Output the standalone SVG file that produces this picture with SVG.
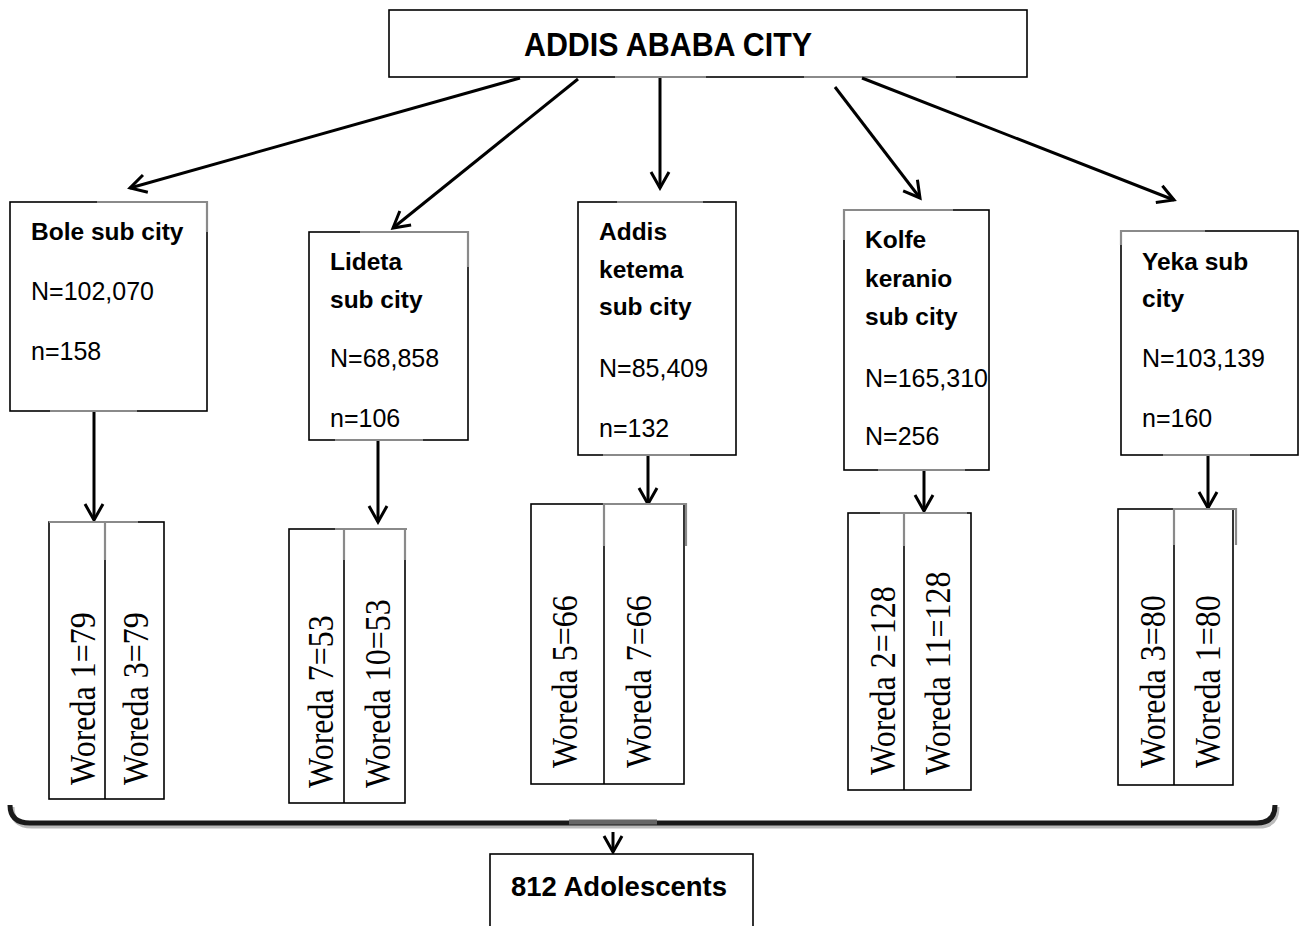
<svg xmlns="http://www.w3.org/2000/svg" width="1301" height="926" viewBox="0 0 1301 926">
<style>
.box{fill:#fff;stroke:#000;stroke-width:1.6}
.art{fill:none;stroke:#8a8a8a;stroke-width:2.2}
.t{font-family:"Liberation Sans",Arial,sans-serif;font-size:25px;fill:#000}
.b{font-weight:bold;font-size:24.5px}
.title{font-family:"Liberation Sans",Arial,sans-serif;font-size:33px;font-weight:bold;fill:#000}
.w{font-family:"Liberation Serif","Times New Roman",serif;font-size:32px;fill:#000}
.conn{fill:none;stroke:#000;stroke-width:3}
</style>
<defs>
<marker id="ah" viewBox="0 0 24 24" refX="21" refY="12" markerWidth="24" markerHeight="24" orient="auto" markerUnits="userSpaceOnUse">
<path d="M5,3 L21,12 L5,21" fill="none" stroke="#000" stroke-width="3" stroke-linejoin="miter"/>
</marker>
</defs>
<rect width="1301" height="926" fill="#fff"/>

<g id="top">
<rect class="box" x="389" y="10" width="638" height="67"/>
<line class="art" x1="615" y1="77" x2="706" y2="77"/>
<line class="art" x1="804" y1="77" x2="956" y2="77"/>
<text class="title" x="524" y="56" textLength="288" lengthAdjust="spacingAndGlyphs">ADDIS ABABA CITY</text>
</g>

<g id="connectors">
<line class="conn" x1="520" y1="78" x2="130" y2="188" marker-end="url(#ah)"/>
<line class="conn" x1="578" y1="79" x2="393" y2="228" marker-end="url(#ah)"/>
<line class="conn" x1="660" y1="78" x2="660" y2="188" marker-end="url(#ah)"/>
<line class="conn" x1="835" y1="87" x2="920" y2="198" marker-end="url(#ah)"/>
<line class="conn" x1="862" y1="78" x2="1174" y2="200" marker-end="url(#ah)"/>
<line class="conn" x1="94" y1="411" x2="94" y2="520" marker-end="url(#ah)"/>
<line class="conn" x1="378" y1="415" x2="378" y2="522" marker-end="url(#ah)"/>
<line class="conn" x1="648" y1="455" x2="648" y2="504" marker-end="url(#ah)"/>
<line class="conn" x1="924" y1="470" x2="924" y2="511" marker-end="url(#ah)"/>
<line class="conn" x1="1208" y1="455" x2="1208" y2="508" marker-end="url(#ah)"/>
<path d="M12,807 Q12,826 32,826 L1259,826 Q1277,826 1277,807" fill="none" stroke="#bbb" stroke-width="5"/>
<path d="M10,805 Q10,823 30,823 L1257,823 Q1275,823 1275,805" fill="none" stroke="#1a1a1a" stroke-width="5"/>
<line x1="569" y1="822" x2="657" y2="822" stroke="#666" stroke-width="5"/>
<line class="conn" x1="613" y1="832" x2="613" y2="852" marker-end="url(#ah)"/>
</g>

<g id="bole">
<rect class="box" x="10" y="202" width="197" height="209"/>
<path class="art" d="M97,202 H207 V232"/>
<line class="art" x1="50" y1="411" x2="137" y2="411"/>
<text class="t b" x="31" y="240">Bole sub city</text>
<text class="t" x="31" y="300">N=102,070</text>
<text class="t" x="31" y="360">n=158</text>
</g>

<g id="lideta">
<rect class="box" x="309" y="232" width="159" height="208"/>
<path class="art" d="M360,232 H468 V267"/>
<line class="art" x1="335" y1="440" x2="423" y2="440"/>
<text class="t b" x="330" y="270">Lideta</text>
<text class="t b" x="330" y="308">sub city</text>
<text class="t" x="330" y="367">N=68,858</text>
<text class="t" x="330" y="427">n=106</text>
</g>

<g id="addis">
<rect class="box" x="578" y="202" width="158" height="253"/>
<line class="art" x1="617" y1="202" x2="703" y2="202"/>
<line class="art" x1="603" y1="455" x2="690" y2="455"/>
<text class="t b" x="599" y="240">Addis</text>
<text class="t b" x="599" y="278">ketema</text>
<text class="t b" x="599" y="315">sub city</text>
<text class="t" x="599" y="377">N=85,409</text>
<text class="t" x="599" y="437">n=132</text>
</g>

<g id="kolfe">
<rect class="box" x="844" y="210" width="145" height="260"/>
<path class="art" d="M844,240 V210 H953"/>
<line class="art" x1="878" y1="470" x2="965" y2="470"/>
<text class="t b" x="865" y="248">Kolfe</text>
<text class="t b" x="865" y="287">keranio</text>
<text class="t b" x="865" y="325">sub city</text>
<text class="t" x="865" y="387">N=165,310</text>
<text class="t" x="865" y="445">N=256</text>
</g>

<g id="yeka">
<rect class="box" x="1121" y="231" width="177" height="224"/>
<path class="art" d="M1121,245 V231 H1205"/>
<line class="art" x1="1163" y1="455" x2="1250" y2="455"/>
<text class="t b" x="1142" y="270">Yeka sub</text>
<text class="t b" x="1142" y="307">city</text>
<text class="t" x="1142" y="367">N=103,139</text>
<text class="t" x="1142" y="427">n=160</text>
</g>

<g id="bole-woredas">
<rect class="box" x="49" y="522" width="115" height="277"/>
<line class="box" x1="105" y1="522" x2="105" y2="799"/>
<path class="art" d="M49,522 H138 M105,522 V560"/>
<text class="w" transform="translate(95,785) rotate(-90) scale(1,1.12)">Woreda 1=79</text>
<text class="w" transform="translate(148,785) rotate(-90) scale(1,1.12)">Woreda 3=79</text>
</g>

<g id="lideta-woredas">
<rect class="box" x="289" y="529" width="116" height="274"/>
<line class="box" x1="344" y1="529" x2="344" y2="803"/>
<path class="art" d="M335,529 H407 M344,529 V560 M405,529 V560"/>
<text class="w" transform="translate(333,788) rotate(-90) scale(1,1.12)">Woreda 7=53</text>
<text class="w" transform="translate(390,788) rotate(-90) scale(1,1.12)">Woreda 10=53</text>
</g>

<g id="addis-woredas">
<rect class="box" x="531" y="504" width="153" height="280"/>
<line class="box" x1="604" y1="504" x2="604" y2="784"/>
<path class="art" d="M604,546 V504 H686 V546"/>
<text class="w" transform="translate(577,768) rotate(-90) scale(1,1.12)">Woreda 5=66</text>
<text class="w" transform="translate(651,768) rotate(-90) scale(1,1.12)">Woreda 7=66</text>
</g>

<g id="kolfe-woredas">
<rect class="box" x="848" y="513" width="123" height="277"/>
<line class="box" x1="904" y1="513" x2="904" y2="790"/>
<path class="art" d="M880,513 H967 M904,513 V546"/>
<text class="w" transform="translate(895,775) rotate(-90) scale(1,1.12)">Woreda 2=128</text>
<text class="w" transform="translate(950,775) rotate(-90) scale(1,1.12)">Woreda 11=128</text>
</g>

<g id="yeka-woredas">
<rect class="box" x="1118" y="509" width="115" height="276"/>
<line class="box" x1="1174" y1="509" x2="1174" y2="785"/>
<path class="art" d="M1174,545 V509 H1236 V545"/>
<text class="w" transform="translate(1165,768) rotate(-90) scale(1,1.12)">Woreda 3=80</text>
<text class="w" transform="translate(1220,768) rotate(-90) scale(1,1.12)">Woreda 1=80</text>
</g>

<g id="total">
<rect class="box" x="490" y="854" width="263" height="80"/>
<text class="title" x="511" y="896" textLength="216" lengthAdjust="spacingAndGlyphs" style="font-size:28px">812 Adolescents</text>
</g>
</svg>
